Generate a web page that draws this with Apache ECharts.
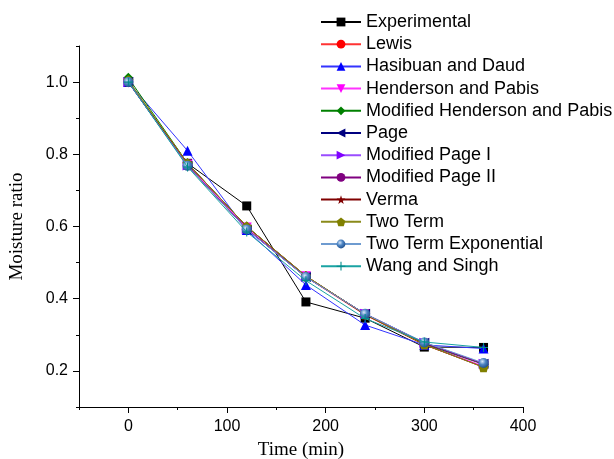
<!DOCTYPE html>
<html>
<head>
<meta charset="utf-8">
<script src="https://cdn.jsdelivr.net/npm/echarts@6/dist/echarts.min.js"></script>
<style>
html,body{margin:0;padding:0;background:#fff;}
#chart{width:614px;height:459px;}
</style>
</head>
<body>
<div id="chart"></div>
<script>
// ---- data ----
var times = [0, 60, 120, 180, 240, 300, 360];
var seriesNames = ['Experimental','Lewis','Hasibuan and Daud','Henderson and Pabis','Modified Henderson and Pabis','Page','Modified Page I','Modified Page II','Verma','Two Term','Two Term Exponential','Wang and Singh'];
var experimental = [1.000, 0.775, 0.657, 0.391, 0.346, 0.266, 0.265];
var lewis        = [1.000, 0.770, 0.595, 0.460, 0.355, 0.272, 0.212];
var hasibuan     = [1.000, 0.810, 0.590, 0.438, 0.327, 0.272, 0.262];
var henderson    = [0.998, 0.772, 0.597, 0.462, 0.357, 0.275, 0.213];
var modHenderson = [1.012, 0.775, 0.600, 0.462, 0.357, 0.275, 0.218];
var page         = [1.000, 0.768, 0.592, 0.460, 0.358, 0.278, 0.220];
var modPage1     = [1.000, 0.769, 0.593, 0.460, 0.358, 0.278, 0.220];
var modPage2     = [1.000, 0.769, 0.593, 0.461, 0.358, 0.277, 0.219];
var verma        = [1.000, 0.775, 0.600, 0.463, 0.356, 0.273, 0.210];
var twoTerm      = [1.005, 0.775, 0.600, 0.463, 0.357, 0.273, 0.210];
var twoTermExp   = [1.000, 0.768, 0.592, 0.460, 0.358, 0.279, 0.222];
var wangSingh    = [1.000, 0.765, 0.585, 0.450, 0.345, 0.280, 0.265];
var xMajorTicks = [0, 100, 200, 300, 400];
var yMajorTicks = [0.2, 0.4, 0.6, 0.8, 1.0];

var allValues = [experimental, lewis, hasibuan, henderson, modHenderson, page, modPage1, modPage2, verma, twoTerm, twoTermExp, wangSingh];

// ---- styles ----
var sphere = {type:'radial', x:0.38, y:0.35, r:0.7, colorStops:[{offset:0,color:'#d8e8fa'},{offset:0.45,color:'#4f86c4'},{offset:1,color:'#1d4d8a'}]};
var styles = [
  {line:'#000000', color:'#000000', symbol:'rect', size:9},
  {line:'#ff3333', color:'#ff0000', symbol:'circle', size:9},
  {line:'#3333ff', color:'#0000ff', symbol:'triangle', size:10},
  {line:'#ff33ff', color:'#ff00ff', symbol:'path://M0,0 L10,0 L5,9 Z', size:10},
  {line:'#008000', color:'#008000', symbol:'diamond', size:10},
  {line:'#000080', color:'#000080', symbol:'path://M9,0 L9,10 L0,5 Z', size:10},
  {line:'#9a4dff', color:'#8000ff', symbol:'path://M0,0 L9,5 L0,10 Z', size:10},
  {line:'#800080', color:'#800080', symbol:'circle', size:9},
  {line:'#800000', color:'#800000', symbol:'path://M5,0 L6.2,3.6 L10,3.6 L7,5.9 L8.1,9.5 L5,7.3 L1.9,9.5 L3,5.9 L0,3.6 L3.8,3.6 Z', size:10},
  {line:'#8a8a1a', color:'#808000', symbol:'path://M5,0 L10,3.8 L8.1,9.5 L1.9,9.5 L0,3.8 Z', size:10},
  {line:'#6e9bd0', color:sphere, symbol:'circle', size:10},
  {line:'#1aa3a3', color:'#008b8b', symbol:'path://M4.4,0 L5.6,0 L5.6,4.4 L10,4.4 L10,5.6 L5.6,5.6 L5.6,10 L4.4,10 L4.4,5.6 L0,5.6 L0,4.4 L4.4,4.4 Z', size:9}
];

var series = seriesNames.map(function(name, i){
  var st = styles[i];
  return {
    name: name,
    type: 'line',
    data: times.map(function(t, j){ return [t, allValues[i][j]]; }),
    symbol: st.symbol,
    symbolSize: st.size,
    showAllSymbol: true,
    lineStyle: {color: st.line, width: 1},
    itemStyle: {color: st.color},
    emphasis: {disabled: true},
    z: 2 + i
  };
});

var chart = echarts.init(document.getElementById('chart'), null, {renderer:'canvas'});
chart.setOption({
  animation: false,
  backgroundColor: '#ffffff',
  grid: {left: 79, right: 91, top: 46, bottom: 52, containLabel: false, outerBoundsMode: 'none'},
  legend: {
    orient: 'vertical',
    left: 315,
    top: 8,
    itemWidth: 40,
    itemHeight: 11,
    itemGap: 4.2,
    textStyle: {fontFamily: 'Liberation Sans, Arial', fontSize: 18, color: '#000', lineHeight: 18},
    data: seriesNames
  },
  xAxis: [{
    type: 'value', min: -50, max: 400, interval: 50,
    name: 'Time (min)', nameLocation: 'middle', nameGap: 34,
    nameTextStyle: {fontFamily: 'Liberation Serif, Times New Roman', fontSize: 19, color: '#000'},
    axisLine: {show: true, onZero: false, lineStyle: {color: '#000', width: 1}},
    axisTick: {show: true, inside: false, length: 3, lineStyle: {color: '#000'}},
    axisLabel: {customValues: xMajorTicks, fontFamily: 'Liberation Sans, Arial', fontSize: 16, color: '#000', margin: 12},
    splitLine: {show: false}
  }, {
    type: 'value', min: -50, max: 400, position: 'bottom',
    axisLine: {show: false, onZero: false},
    axisTick: {show: true, inside: false, length: 6, customValues: xMajorTicks, lineStyle: {color: '#000'}},
    axisLabel: {show: false},
    splitLine: {show: false}
  }],
  yAxis: [{
    type: 'value', min: 0.1, max: 1.1, interval: 0.1,
    name: 'Moisture ratio', nameLocation: 'middle', nameGap: 52, nameRotate: 90,
    nameTextStyle: {fontFamily: 'Liberation Serif, Times New Roman', fontSize: 19, color: '#000'},
    axisLine: {show: true, onZero: false, lineStyle: {color: '#000', width: 1}},
    axisTick: {show: true, inside: false, length: 3, lineStyle: {color: '#000'}},
    axisLabel: {customValues: yMajorTicks, formatter: function(v){ return v.toFixed(1); }, fontFamily: 'Liberation Sans, Arial', fontSize: 16, color: '#000', margin: 11},
    splitLine: {show: false}
  }, {
    type: 'value', min: 0.1, max: 1.1, position: 'left',
    axisLine: {show: false, onZero: false},
    axisTick: {show: true, inside: false, length: 6, customValues: yMajorTicks, lineStyle: {color: '#000'}},
    axisLabel: {show: false},
    splitLine: {show: false}
  }],
  series: series
});
</script>
</body>
</html>
